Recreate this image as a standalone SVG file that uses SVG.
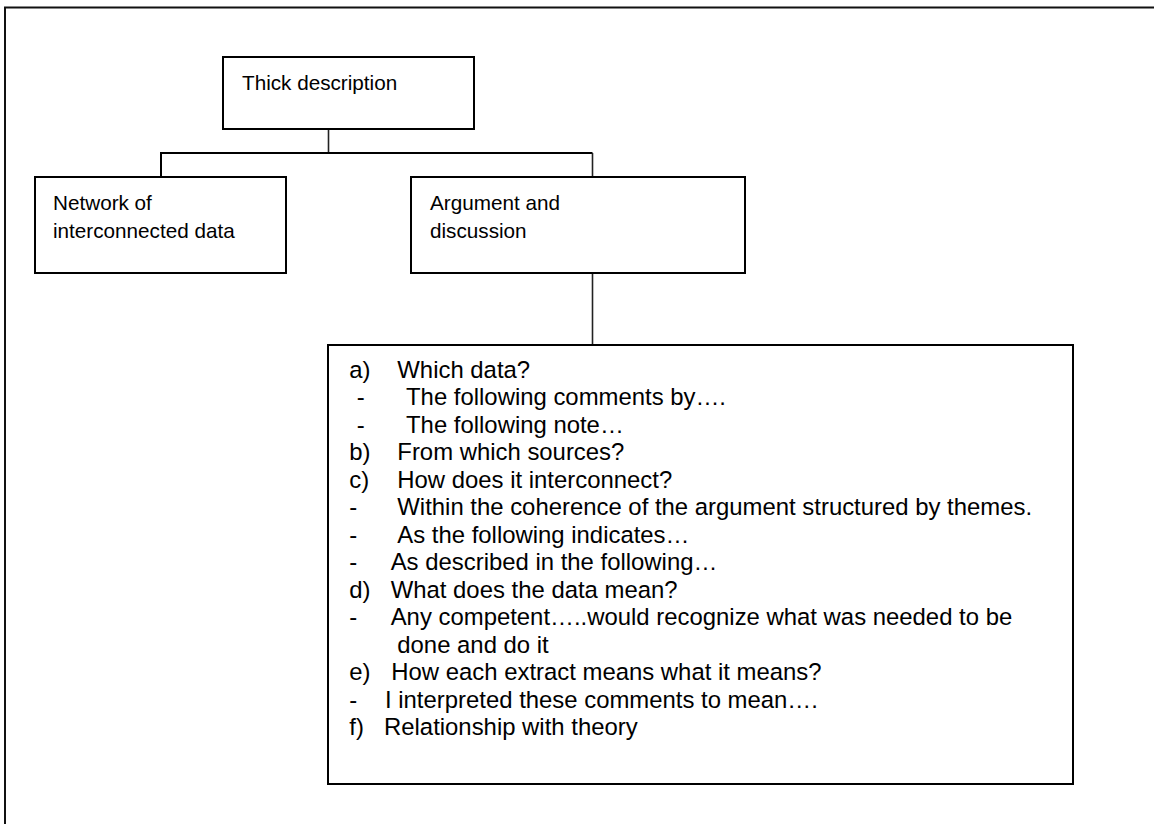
<svg xmlns="http://www.w3.org/2000/svg" width="1154" height="824" viewBox="0 0 1154 824">
  <style>
    .box { fill: #ffffff; stroke: #000000; stroke-width: 2; }
    .frame { fill: none; stroke: #111111; stroke-width: 2; }
    .link { fill: none; stroke: #000000; stroke-width: 2; }
    .stem { fill: none; stroke: #222222; stroke-width: 1.6; }
    text { font-family: "Liberation Sans", Arial, sans-serif; font-size: 20.7px; fill: #000000; }
    .list text { font-size: 23.9px; }
  </style>

  <rect width="1154" height="824" fill="#ffffff"/>

  <!-- page frame (runs past the right and bottom edges) -->
  <rect class="frame" x="5" y="7.5" width="1300" height="900"/>

  <!-- connectors -->
  <g id="connectors">
    <line class="stem" x1="328.5" y1="129" x2="328.5" y2="153"/>
    <polyline class="link" points="161,177 161,153 592.5,153"/>
    <line class="stem" x1="592.5" y1="153" x2="592.5" y2="177"/>
    <line class="stem" x1="592.5" y1="273" x2="592.5" y2="345"/>
  </g>

  <g id="thick-description">
    <rect class="box" x="223" y="57" width="251" height="72"/>
    <text x="242" y="90">Thick description</text>
  </g>

  <g id="network-data">
    <rect class="box" x="35" y="177" width="251" height="96"/>
    <text x="53" y="210">Network of</text>
    <text x="53" y="237.5">interconnected data</text>
  </g>

  <g id="argument-discussion">
    <rect class="box" x="411" y="177" width="334" height="96"/>
    <text x="430" y="210">Argument and</text>
    <text x="430" y="237.5">discussion</text>
  </g>

  <g id="questions" class="list">
    <rect class="box" x="328" y="345" width="745" height="439"/>
    <text x="349.3" y="377.7">a)</text><text x="397.3" y="377.7">Which data?</text>
    <text x="356.7" y="405.2">-</text><text x="406" y="405.2">The following comments by….</text>
    <text x="356.7" y="432.7">-</text><text x="406" y="432.7">The following note…</text>
    <text x="349.3" y="460.2">b)</text><text x="397.3" y="460.2">From which sources?</text>
    <text x="349.3" y="487.7">c)</text><text x="397.3" y="487.7">How does it interconnect?</text>
    <text x="349.3" y="515.2">-</text><text x="397.3" y="515.2">Within the coherence of the argument structured by themes.</text>
    <text x="349.3" y="542.7">-</text><text x="397.3" y="542.7">As the following indicates…</text>
    <text x="349.3" y="570.2">-</text><text x="390.7" y="570.2">As described in the following…</text>
    <text x="349.3" y="597.7">d)</text><text x="390.7" y="597.7">What does the data mean?</text>
    <text x="349.3" y="625.2">-</text><text x="390.7" y="625.2">Any competent…..would recognize what was needed to be</text>
    <text x="397.3" y="652.7">done and do it</text>
    <text x="349.3" y="680.2">e)</text><text x="391.3" y="680.2">How each extract means what it means?</text>
    <text x="349.3" y="707.7">-</text><text x="385" y="707.7">I interpreted these comments to mean….</text>
    <text x="349.3" y="735.2">f)</text><text x="384" y="735.2">Relationship with theory</text>
  </g>
</svg>
